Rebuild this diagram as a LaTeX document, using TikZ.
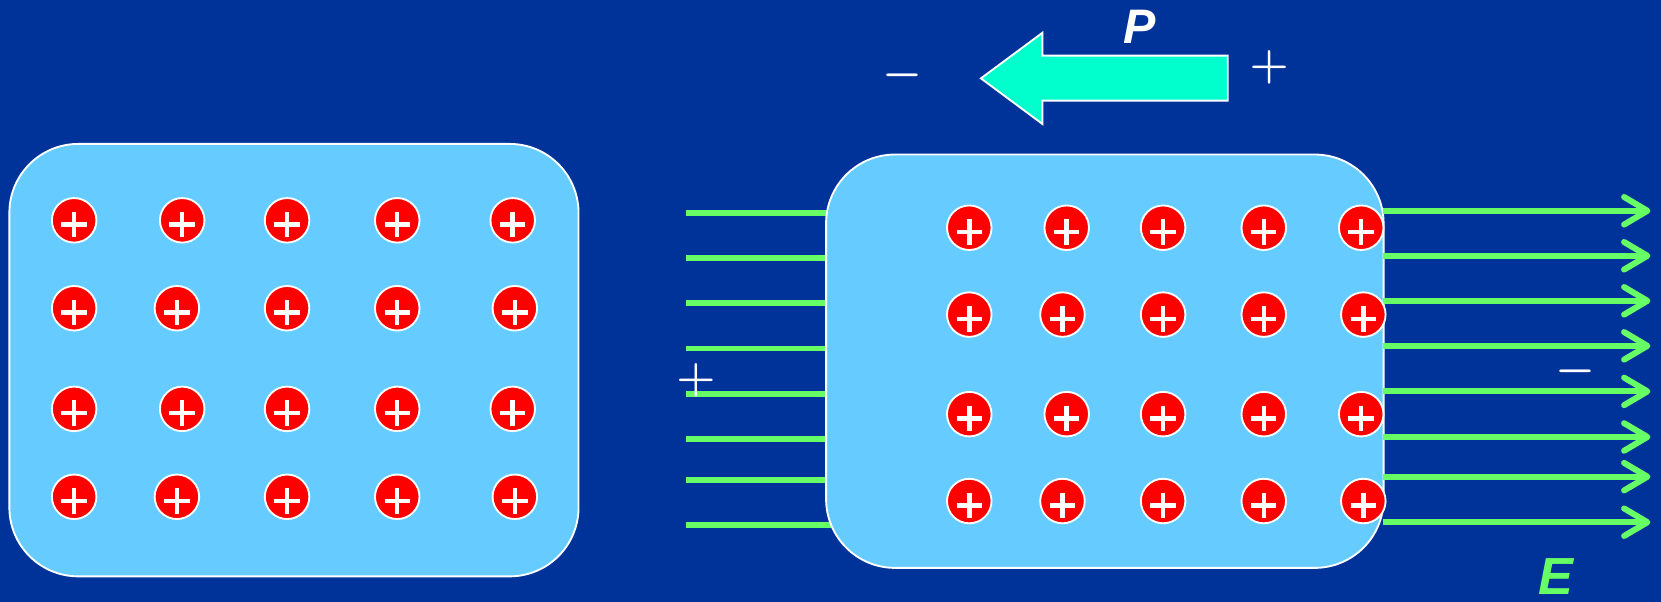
\documentclass[tikz,border=0pt]{standalone}
\usepackage{fontspec}
\setmainfont{Liberation Sans}
\usepackage{tikz}
\usetikzlibrary{arrows.meta}
\definecolor{bgblue}{HTML}{003399}
\definecolor{slabfill}{HTML}{66CCFF}
\definecolor{fieldgreen}{HTML}{66FF66}
\definecolor{polarfill}{HTML}{00FFCC}

\tikzset{
  slabbox/.style={rectangle, draw=white, line width=0.5pt, fill=slabfill,
    rounded corners=0.65cm, inner sep=0pt},
  ion/.style={circle, draw=white, line width=0.5pt, fill=red,
    minimum size=0.42cm, inner sep=0pt,
    path picture={
      \draw[white, line width=1.2pt]
        ([yshift=-0.04cm]path picture bounding box.center) ++(-0.12cm,0) -- ++(0.24cm,0)
        ++(-0.12cm,0.12cm) -- ++(0,-0.24cm);}},
  fieldline/.style={fieldgreen, line width=1.6pt},
  sign/.style={white, font=\fontsize{13}{16}\selectfont\boldmath},
  lbl/.style={font=\fontsize{13}{16}\selectfont\bfseries\itshape},
}

\begin{document}
\begin{tikzpicture}[x=0.01cm, y=-0.01cm]
  % 背景
  \fill[bgblue] (0,0) rectangle (1568,568);
  \useasboundingbox (0,0) rectangle (1568,568);
  % 左：未极化的介质
  \node[slabbox, minimum width=5.37cm, minimum height=4.08cm] (slabL) at (277.5,340) {};
  \foreach \y/\r in {208/1,386/3}
    \foreach \x [count=\c] in {70,172,271,375,484}
      \node[ion] (a\r\c) at (\x,\y) {};
  \foreach \y/\r in {291/2,469/4}
    \foreach \x [count=\c] in {70,167,271,375,486}
      \node[ion] (a\r\c) at (\x,\y) {};
  % 右：外场中的介质，场线先画，介质盖在上面
  \foreach \y in {201,243.5,286.5,329,372,414.5,453,496}
    \draw[fieldline] (648,\y) -- (800,\y);
  \node[slabbox, minimum width=5.26cm, minimum height=3.90cm] (slabR) at (1043,341) {};
  \foreach \y in {199,241.5,284,326.5,369.5,412.5,450,493}
    \draw[fieldline, -{Straight Barb[length=2.2mm,width=2.6mm,round]}]
      (1306,\y) -- (1558,\y);
  \foreach \y/\r in {215/1,391/3}
    \foreach \x [count=\c] in {915,1007,1098,1193,1285}
      \node[ion] (b\r\c) at (\x,\y) {};
  \foreach \y/\r in {297/2,473/4}
    \foreach \x [count=\c] in {915,1003,1098,1193,1287}
      \node[ion] (b\r\c) at (\x,\y) {};
  \node[sign] (fieldpos) at (657,359) {$+$};
  \node[sign] (fieldneg) at (1487,351) {$-$};
  \node[lbl, fieldgreen, font=\fontsize{14}{17}\selectfont\bfseries\itshape] (elabel) at (1469,544) {E};
  % 极化强度 P
  \draw[white, line width=0.5pt, fill=polarfill]
    (926,74) -- (984,31) -- (984,52.5) -- (1159,52.5) -- (1159,95)
    -- (984,95) -- (984,117) -- cycle;
  \node[sign] (polneg) at (852,71) {$-$};
  \node[sign] (polpos) at (1198,64) {$+$};
  \node[lbl, white] (plabel) at (1076,25) {P};
\end{tikzpicture}
\end{document}
